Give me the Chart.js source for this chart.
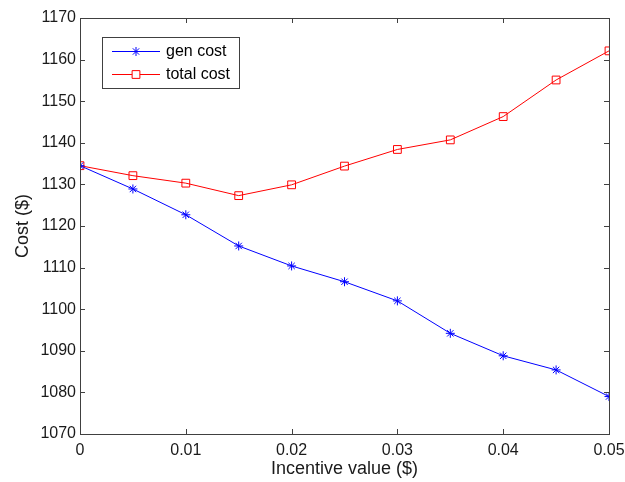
<!DOCTYPE html>
<html>
<head>
<meta charset="utf-8">
<script src="https://cdn.jsdelivr.net/npm/chart.js@4"></script>
<style>
  html, body { margin: 0; padding: 0; background: #ffffff; }
  #wrap { width: 625px; height: 482px; }
</style>
</head>
<body>
<div id="wrap"><canvas id="costChart" width="625" height="482"></canvas></div>
<script>
/* ---- data ---- */
const incentive  = [0, 0.005, 0.01, 0.015, 0.02, 0.025, 0.03, 0.035, 0.04, 0.045, 0.05];
const genCost    = [1134.5, 1128.9, 1122.7, 1115.2, 1110.4, 1106.6, 1102.0, 1094.2, 1088.8, 1085.4, 1079.0];
const totalCost  = [1134.5, 1132.1, 1130.3, 1127.3, 1129.9, 1134.4, 1138.4, 1140.7, 1146.3, 1155.1, 1162.1];
const xTicks     = ['0', '0.01', '0.02', '0.03', '0.04', '0.05'];
const yTicks     = ['1070', '1080', '1090', '1100', '1110', '1120', '1130', '1140', '1150', '1160', '1170'];
const seriesName = ['gen cost', 'total cost'];

const FONT  = "Arial, 'Liberation Sans', sans-serif";
const AXIS  = '#404040';
const BLUE  = '#0000ff';
const RED   = '#ff0000';

function pts(ys) {
  return incentive.map((x, i) => ({ x, y: ys[i] }));
}

/* ---- MATLAB-style box, inward ticks, titles, legend ---- */
const matlabFrame = {
  id: 'matlabFrame',
  afterDraw(chart) {
    const { ctx, chartArea: a, scales } = chart;
    const xs = scales.x, ys = scales.y;
    ctx.save();
    ctx.strokeStyle = AXIS;
    ctx.lineWidth = 1;
    ctx.strokeRect(Math.round(a.left) + 0.5, Math.round(a.top) + 0.5,
                   Math.round(a.right - a.left), Math.round(a.bottom - a.top));
    const tl = 5;
    ctx.beginPath();
    xTicks.forEach(t => {
      const px = Math.round(xs.getPixelForValue(parseFloat(t))) + 0.5;
      ctx.moveTo(px, a.bottom); ctx.lineTo(px, a.bottom - tl);
      ctx.moveTo(px, a.top);    ctx.lineTo(px, a.top + tl);
    });
    yTicks.forEach(t => {
      const py = Math.round(ys.getPixelForValue(parseFloat(t))) + 0.5;
      ctx.moveTo(a.left, py);  ctx.lineTo(a.left + tl, py);
      ctx.moveTo(a.right, py); ctx.lineTo(a.right - tl, py);
    });
    ctx.stroke();

    // axis titles
    ctx.fillStyle = '#1a1a1a';
    ctx.font = '18px ' + FONT;
    ctx.textAlign = 'center';
    ctx.textBaseline = 'middle';
    ctx.fillText('Incentive value ($)', (a.left + a.right) / 2, 469);
    ctx.save();
    ctx.translate(23, (a.top + a.bottom) / 2);
    ctx.rotate(-Math.PI / 2);
    ctx.fillText('Cost ($)', 0, 0);
    ctx.restore();

    // legend
    const lx = 102.5, ly = 37.5, lw = 137, lh = 51;
    ctx.fillStyle = '#ffffff';
    ctx.fillRect(lx, ly, lw, lh);
    ctx.strokeStyle = AXIS;
    ctx.strokeRect(lx, ly, lw, lh);
    const rows = [51.5, 74.5];
    chart.data.datasets.forEach((ds, i) => {
      const y = rows[i];
      ctx.strokeStyle = ds.borderColor;
      ctx.beginPath();
      ctx.moveTo(112, y); ctx.lineTo(160, y);
      ctx.stroke();
      ctx.fillStyle = '#ffffff';
      Chart.helpers.drawPoint(ctx, {
        pointStyle: ds.pointStyle, radius: ds.pointRadius, borderWidth: 1
      }, 136, y);
      ctx.fillStyle = '#000000';
      ctx.font = '16px ' + FONT;
      ctx.textAlign = 'left';
      ctx.textBaseline = 'middle';
      ctx.fillText(ds.label, 166, y);
    });
    ctx.restore();
  }
};

new Chart(document.getElementById('costChart').getContext('2d'), {
  type: 'line',
  data: {
    datasets: [
      {
        label: seriesName[0],
        data: pts(genCost),
        borderColor: BLUE,
        backgroundColor: 'rgba(0,0,0,0)',
        borderWidth: 1,
        pointStyle: 'star',
        pointRadius: 4.5,
        pointBorderColor: BLUE,
        pointBorderWidth: 1,
        tension: 0,
      },
      {
        label: seriesName[1],
        data: pts(totalCost),
        borderColor: RED,
        backgroundColor: 'rgba(0,0,0,0)',
        borderWidth: 1,
        pointStyle: 'rect',
        pointRadius: 5.5,
        pointBorderColor: RED,
        pointBackgroundColor: 'rgba(0,0,0,0)',
        pointBorderWidth: 1,
        tension: 0,
      },
    ],
  },
  options: {
    responsive: false,
    animation: false,
    layout: { padding: { top: 18, right: 16, left: 0, bottom: 0 } },
    plugins: {
      legend: { display: false },
      tooltip: { enabled: false },
    },
    scales: {
      x: {
        type: 'linear',
        min: 0, max: 0.05,
        afterBuildTicks: s => { s.ticks = xTicks.map(t => ({ value: parseFloat(t) })); },
        afterFit: s => { s.height = 48; s.paddingLeft = 0; s.paddingRight = 0; },
        grid: { display: false, drawTicks: false },
        border: { display: false },
        ticks: {
          padding: 7,
          color: '#1a1a1a',
          font: { family: FONT, size: 16 },
          maxRotation: 0,
          callback: (v, i) => xTicks[i],
        },
      },
      y: {
        type: 'linear',
        min: 1070, max: 1170,
        afterBuildTicks: s => { s.ticks = yTicks.map(t => ({ value: parseFloat(t) })); },
        afterFit: s => { s.width = 80; s.paddingTop = 0; s.paddingBottom = 0; },
        grid: { display: false, drawTicks: false },
        border: { display: false },
        ticks: {
          padding: 4,
          color: '#1a1a1a',
          font: { family: FONT, size: 16 },
          callback: (v, i) => yTicks[i],
        },
      },
    },
  },
  plugins: [matlabFrame],
});
</script>
</body>
</html>
